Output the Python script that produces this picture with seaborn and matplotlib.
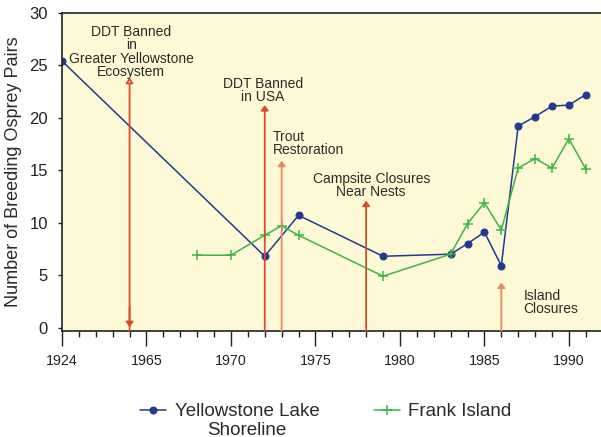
import numpy as np
import matplotlib
matplotlib.use("Agg")
import matplotlib.pyplot as plt
from matplotlib.ticker import FixedLocator
import seaborn as sns

# Breeding osprey pairs
lake_years = [1924, 1972, 1974, 1979, 1983, 1984, 1985, 1986, 1987, 1988, 1989, 1990, 1991]
lake_pairs = [25.4, 6.8, 10.7, 6.8, 7.0, 8.0, 9.1, 5.9, 19.2, 20.1, 21.1, 21.2, 22.2]

frank_years = [1968, 1970, 1972, 1973, 1974, 1979, 1983, 1984, 1985, 1986, 1987, 1988, 1989, 1990, 1991]
frank_pairs = [6.9, 6.9, 8.8, 9.7, 8.8, 4.9, 7.0, 9.9, 11.9, 9.3, 15.2, 16.1, 15.2, 18.0, 15.1]

# management events (year, arrow top)
event_years = [1964, 1972, 1973, 1978, 1986]
event_tops = [23.8, 21.2, 15.9, 12.1, 4.3]
event_labels = ["DDT Banned\nin\nGreater Yellowstone\nEcosystem", "DDT Banned\nin USA",
                "Trout\nRestoration", "Campsite Closures\nNear Nests", "Island\nClosures"]

xtick_years = [1924, 1965, 1970, 1975, 1980, 1985, 1990]
yticks = [0, 5, 10, 15, 20, 25, 30]

BLUE = "#22398f"
GREEN = "#3fb34a"
RED = "#d4502a"
SALMON = "#e68a62"
BG = "#fdf9d6"
TXT = "#2a2a2a"


def fwd(x):
    x = np.asarray(x, dtype=float)
    return np.where(x < 1960, 1960 - (1960 - x) * 1e-4, x)


def inv(x):
    x = np.asarray(x, dtype=float)
    return np.where(x < 1960, 1960 - (1960 - x) * 1e4, x)


sns.set_style("ticks")
plt.rcParams["font.family"] = ["Liberation Sans", "DejaVu Sans"]

fig = plt.figure(figsize=(6.01, 4.37), dpi=100)
ax = fig.add_axes([0.103, 0.243, 0.897, 0.728])
ax.set_facecolor(BG)
ax.set_xscale("function", functions=(fwd, inv))

sns.lineplot(x=lake_years, y=lake_pairs, ax=ax, color=BLUE, lw=1.1, marker="o",
             markersize=5, markeredgecolor=BLUE, label="Yellowstone Lake")
sns.lineplot(x=frank_years, y=frank_pairs, ax=ax, color=GREEN, lw=1.1, marker="+",
             markersize=7.5, markeredgewidth=1.1, markeredgecolor=GREEN, label="Frank Island")

ax.set_xlim(1924, 1991.9)
ax.set_ylim(-0.3, 30)

# event arrows
ymin = ax.get_ylim()[0]
arrow_cols = [RED, RED, SALMON, RED, SALMON]
head = "-|>,head_length=0.3,head_width=0.22"
for i, (yr, top) in enumerate(zip(event_years, event_tops)):
    c = arrow_cols[i]
    fc = BG if i == 0 else c
    ax.annotate("", xy=(yr, top), xytext=(yr, ymin),
                arrowprops=dict(arrowstyle=head, color=c, fc=fc, lw=1.3, shrinkA=0, shrinkB=0))
# downward head for the first arrow
ax.annotate("", xy=(event_years[0], 0.05), xytext=(event_years[0], 2),
            arrowprops=dict(arrowstyle=head, color=RED, lw=1.3, shrinkA=0, shrinkB=0))

kw = dict(va="top", fontsize=10, color=TXT, linespacing=0.92)
ax.text(1964.1, 28.8, event_labels[0], ha="center", **kw)
ax.text(1971.9, 23.9, event_labels[1], ha="center", **kw)
ax.text(1972.5, 18.8, event_labels[2], ha="left", **kw)
ax.text(1978.3, 14.8, event_labels[3], ha="center", **kw)
ax.text(1987.3, 3.7, event_labels[4], ha="left", **kw)

# axes styling
ax.xaxis.set_major_locator(FixedLocator(xtick_years))
ax.set_xticklabels([str(y) for y in xtick_years])
ax.xaxis.set_minor_locator(FixedLocator([y for y in range(1961, 1992) if y not in xtick_years]))
ax.set_yticks(yticks)
ax.tick_params(axis="x", which="major", length=11, width=1.0, pad=6, labelsize=10.3, colors="#222222")
ax.tick_params(axis="x", which="minor", length=4, width=1.0, colors="#222222")
ax.tick_params(axis="y", length=3, width=1.0, pad=7, labelsize=12, colors="#222222")
ax.set_ylabel("Number of Breeding Osprey Pairs", fontsize=13, color=TXT, labelpad=5)
ax.set_xlabel("")

for s in ["left", "bottom", "top"]:
    ax.spines[s].set_color("#222222")
    ax.spines[s].set_linewidth(1.2)
ax.spines["right"].set_visible(False)

handles, labels = ax.get_legend_handles_labels()
ax.get_legend().remove()
leg = fig.legend(handles, labels, loc="center", bbox_to_anchor=(0.542, 0.058),
                 ncol=2, frameon=False, fontsize=13.5, handlelength=1.4, columnspacing=2.9,
                 handletextpad=0.45)
for t in leg.get_texts():
    t.set_color(TXT)

# second line of the first legend label, centred under it
fig.canvas.draw()
bb = leg.get_texts()[0].get_window_extent().transformed(fig.transFigure.inverted())
fig.text((bb.x0 + bb.x1) / 2, bb.y0 - 0.003, "Shoreline", ha="center", va="top",
         fontsize=13.5, color=TXT)

fig.savefig("out.png", dpi=100, facecolor="white")
